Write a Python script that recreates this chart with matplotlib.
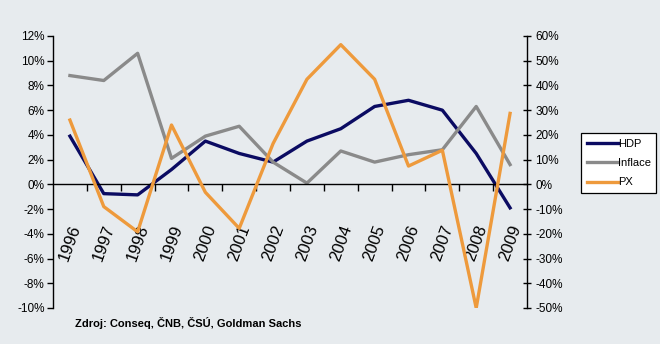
import matplotlib.pyplot as plt
from matplotlib.ticker import FixedLocator, FuncFormatter

# Data
years = ['1996', '1997', '1998', '1999', '2000', '2001', '2002',
         '2003', '2004', '2005', '2006', '2007', '2008', '2009']
hdp = [3.9, -0.75, -0.85, 1.2, 3.5, 2.5, 1.8, 3.5, 4.5, 6.3, 6.8, 6.0, 2.5, -1.9]
inflace = [8.8, 8.4, 10.6, 2.1, 3.9, 4.7, 1.8, 0.1, 2.7, 1.8, 2.4, 2.8, 6.3, 1.6]
px = [26.0, -9.0, -19.2, 24.0, -3.2, -17.8, 16.5, 42.5, 56.5, 42.5, 7.4, 13.8, -50.0, 28.7]

BG = '#E7EBEE'
NAVY = '#0B0B62'
GRAY = '#8A8A8A'
ORANGE = '#EE9A3C'
FONT = ['Liberation Sans Narrow', 'Liberation Sans', 'DejaVu Sans']

plt.rcParams['font.family'] = FONT

fig = plt.figure(figsize=(6.6, 3.44), dpi=100, facecolor=BG)
ax = fig.add_axes([53 / 660, 1 - 308 / 344, 474 / 660, 272 / 344])
ax.set_facecolor(BG)

x = list(range(len(years)))
l1, = ax.plot(x, hdp, color=NAVY, lw=2.4, label='HDP')
l2, = ax.plot(x, inflace, color=GRAY, lw=2.4, label='Inflace')
ax.set_xlim(-0.5, len(years) - 0.5)
ax.set_ylim(-10, 12)

ax2 = ax.twinx()
l3, = ax2.plot(x, px, color=ORANGE, lw=2.4, label='PX')
ax2.set_ylim(-50, 60)

# spines
for s in ['top']:
    ax.spines[s].set_visible(False)
    ax2.spines[s].set_visible(False)
ax.spines['right'].set_visible(False)
ax2.spines['left'].set_visible(False)
ax2.spines['bottom'].set_visible(False)
ax.spines['bottom'].set_position(('data', 0))
ax.spines['bottom'].set_linewidth(1.0)
ax.spines['left'].set_linewidth(1.0)
ax2.spines['right'].set_linewidth(1.0)

# y axes
ax.yaxis.set_major_locator(FixedLocator(range(-10, 13, 2)))
ax.yaxis.set_major_formatter(FuncFormatter(lambda v, p: '%d%%' % v))
ax.tick_params(axis='y', direction='out', length=4, width=1, labelsize=8.5, pad=2)
ax2.yaxis.set_major_locator(FixedLocator(range(-50, 61, 10)))
ax2.yaxis.set_major_formatter(FuncFormatter(lambda v, p: '%d%%' % v))
ax2.tick_params(axis='y', direction='inout', length=6, width=1, labelsize=8.5, pad=3)

# x axis: labels at centers, ticks at boundaries
ax.set_xticks(x)
ax.set_xticklabels(years, rotation=70, ha='center', va='top', fontsize=12)
ax.set_xticks([i + 0.5 for i in x[:-1]], minor=True)
ax.tick_params(axis='x', which='major', length=0, pad=28)
ax.tick_params(axis='x', which='minor', direction='out', length=5, width=1)

fig.legend(handles=[l1, l2, l3], loc='upper left',
           bbox_to_anchor=(581 / 660, 1 - 133 / 344), fontsize=8,
           frameon=True, fancybox=False, edgecolor='black', facecolor='white',
           framealpha=1, handlelength=2.8, handletextpad=0.0,
           borderpad=0.5, labelspacing=0.85, borderaxespad=0)
fig.legends[0].get_frame().set_linewidth(0.9)

fig.text(75 / 660, 1 - 323 / 344, 'Zdroj: Conseq, ČNB, ČSÚ, Goldman Sachs',
         fontsize=8, fontweight='bold', va='center', ha='left',
         family=['Liberation Sans', 'DejaVu Sans'])

fig.savefig('out.png', dpi=100, facecolor=BG)
